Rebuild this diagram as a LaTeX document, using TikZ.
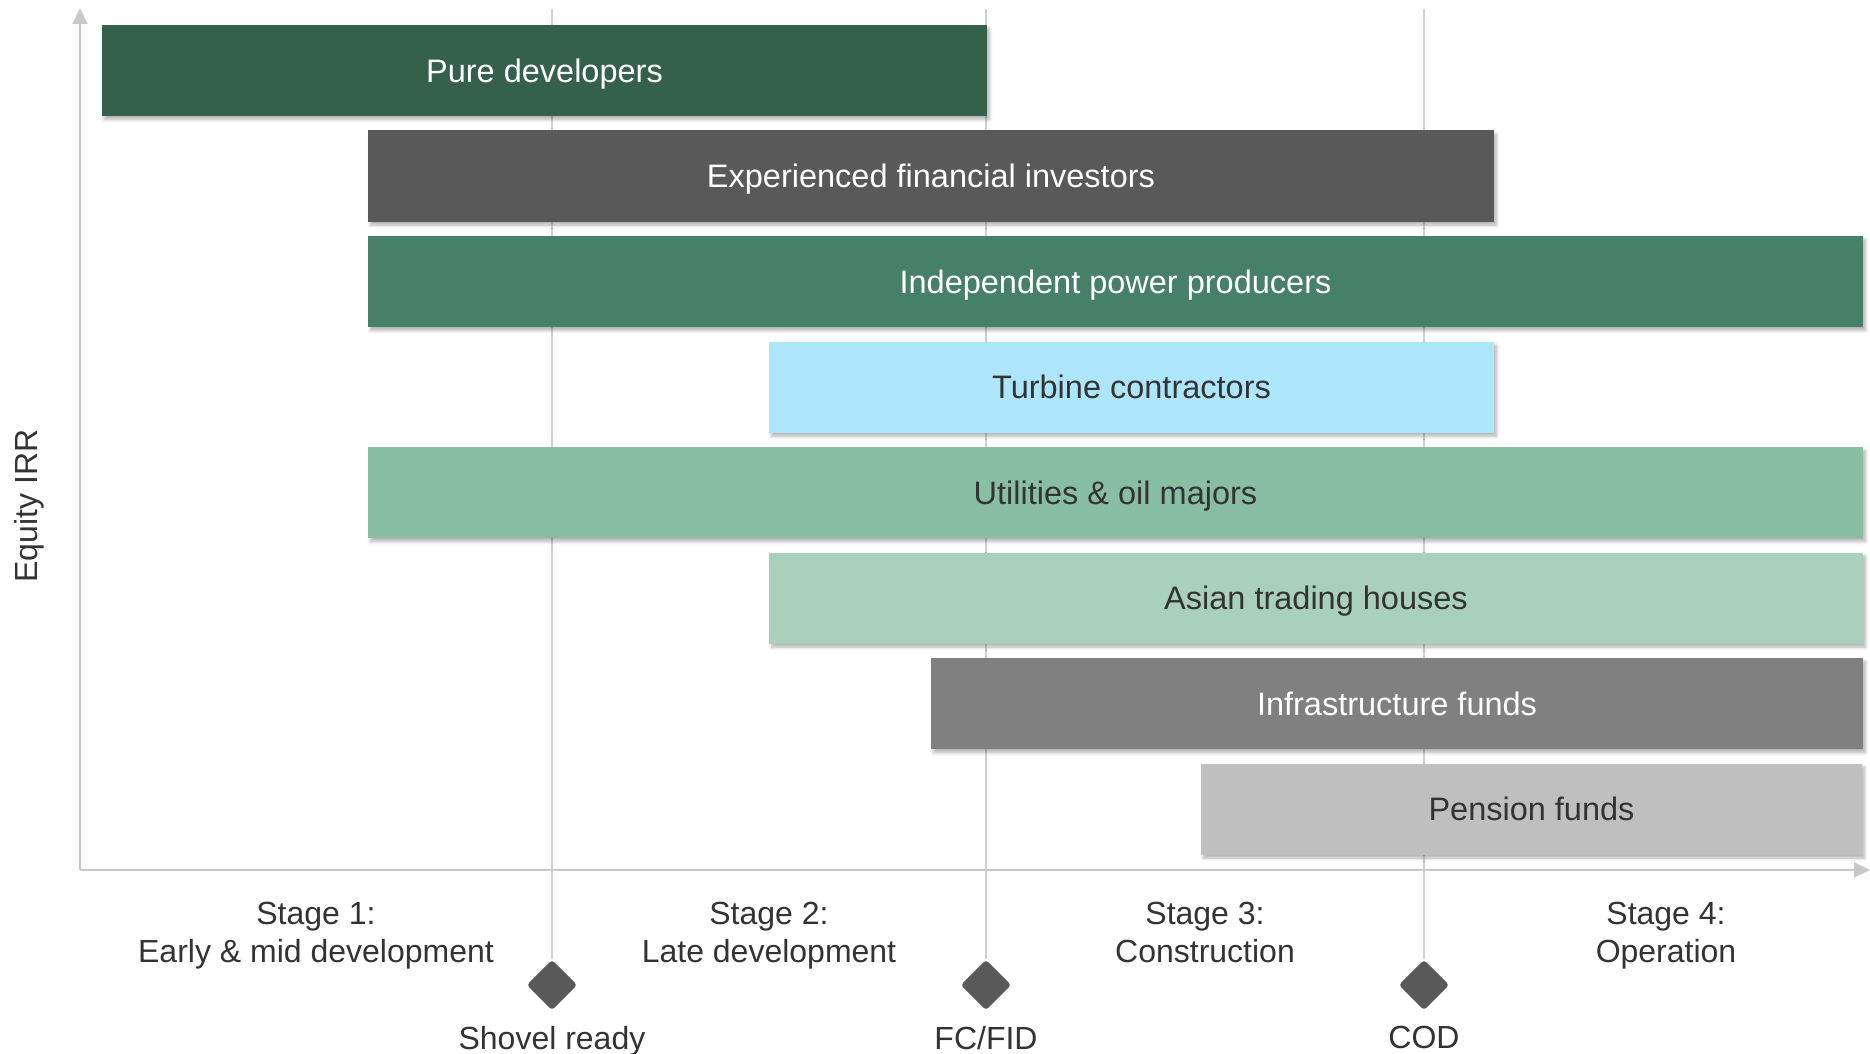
\documentclass[tikz,border=0pt]{standalone}
\usepackage{fontspec}
\setmainfont{Liberation Sans}
\usetikzlibrary{arrows.meta,shadows.blur}
\definecolor{cPure}{HTML}{35614C}
\definecolor{cExp}{HTML}{595959}
\definecolor{cIPP}{HTML}{478069}
\definecolor{cTurb}{HTML}{ADE6FB}
\definecolor{cUtil}{HTML}{88BFA3}
\definecolor{cAsian}{HTML}{A8D0BC}
\definecolor{cInfra}{HTML}{808080}
\definecolor{cPens}{HTML}{BFBFBF}
\definecolor{cText}{HTML}{333333}
\definecolor{cAxis}{HTML}{C8C8C8}
\definecolor{cGrid}{HTML}{D0D0D0}
\definecolor{cDiam}{HTML}{595959}
\tikzset{
  barbox/.style={rectangle, inner sep=0pt, minimum height=45.5pt,
    text height=11.6pt, text depth=0pt,
    font=\fontsize{16.25}{19}\selectfont,
    blur shadow={shadow xshift=1.2pt, shadow yshift=-1.8pt, shadow blur steps=6, shadow blur radius=1.6pt, shadow opacity=30}},
  darkbar/.style={barbox, fill=#1, text=white},
  lightbar/.style={barbox, fill=#1, text=cText},
  lbl/.style={text=cText, font=\fontsize{16}{19}\selectfont, align=center, inner sep=0pt, text depth=0pt},
  milestone/.style={rectangle, rotate=45, fill=cDiam, minimum size=17.7pt, inner sep=0pt, rounded corners=1.5pt},
  gridln/.style={draw=cGrid, line width=0.85pt},
  axisln/.style={draw=cAxis, line width=1pt, -{Triangle[length=8pt,width=7.5pt]}}
}
\begin{document}
\begin{tikzpicture}[x=0.5pt,y=-0.5pt]
\useasboundingbox (0,0) rectangle (1870,1054);
% milestones
\node[milestone] (d1) at (552,985) {};
\node[milestone] (d2) at (986,985) {};
\node[milestone] (d3) at (1424,985) {};
\coordinate (g1) at (552,9);
\coordinate (g2) at (986,9);
\coordinate (g3) at (1424,9);
\draw[gridln] (g1) -- (d1.north east);
\draw[gridln] (g2) -- (d2.north east);
\draw[gridln] (g3) -- (d3.north east);
% bars
\node[darkbar=cPure, minimum width=442.5pt] (b1) at (544.5,70.5) {Pure developers};
\node[darkbar=cExp, minimum width=563pt] (b2) at (931,176) {Experienced financial investors};
\node[darkbar=cIPP, minimum width=747.5pt] (b3) at (1115.5,281.5) {Independent power producers};
\node[lightbar=cTurb, minimum width=362.5pt] (b4) at (1131.5,387) {Turbine contractors};
\node[lightbar=cUtil, minimum width=747.5pt] (b5) at (1115.5,492.5) {Utilities \& oil majors};
\node[lightbar=cAsian, minimum width=547pt] (b6) at (1316,598) {Asian trading houses};
\node[darkbar=cInfra, minimum width=466pt] (b7) at (1397,703.5) {Infrastructure funds};
\node[lightbar=cPens, minimum width=330.5pt] (b8) at (1531.5,809) {Pension funds};
% axes
\coordinate (o) at (80,870);
\coordinate (ytop) at (80,8);
\coordinate (xend) at (1870,870);
\draw[axisln] (o) -- (ytop);
\draw[axisln] (o) -- (xend);
\node[lbl, rotate=90] (ylab) at (26,506) {Equity IRR};
% stage labels
\node[lbl] (s1) at (316,932.5) {Stage 1:\\Early \& mid development};
\node[lbl] (s2) at (769,932.5) {Stage 2:\\Late development};
\node[lbl] (s3) at (1205,932.5) {Stage 3:\\Construction};
\node[lbl] (s4) at (1666,932.5) {Stage 4:\\Operation};
% milestone labels
\node[lbl] (m1) at (552,1037.5) {Shovel ready};
\node[lbl] (m2) at (986,1037.5) {FC/FID};
\node[lbl] (m3) at (1424,1037.5) {COD};
\end{tikzpicture}
\end{document}
